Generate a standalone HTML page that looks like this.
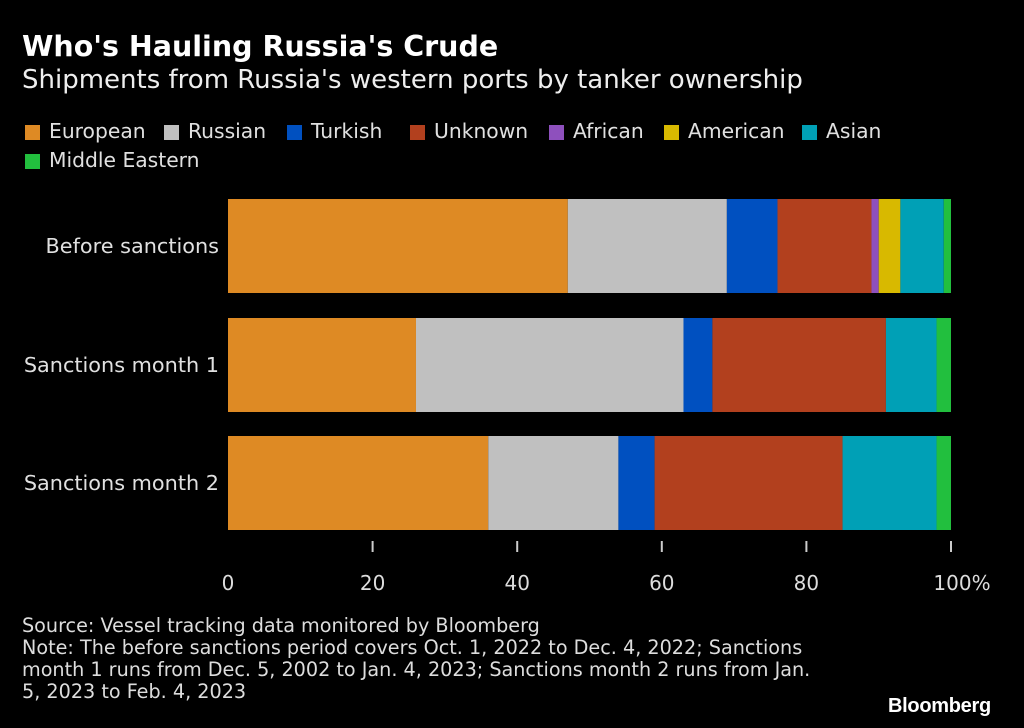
<!DOCTYPE html>
<html><head><meta charset="utf-8">
<style>
body{margin:0;background:#000;width:1024px;height:728px;overflow:hidden;font-family:"DejaVu Sans",sans-serif;color:#e6e6e6;position:relative}
.a{position:absolute;white-space:nowrap}
.sw{position:absolute;width:15px;height:15px}
.lt{position:absolute;font-size:20.3px;color:#e0e0e0;white-space:nowrap}
</style></head><body>
<div class="a" style="left:22px;top:30px;font-size:28.5px;font-weight:bold;color:#fff">Who's Hauling Russia's Crude</div>
<div class="a" style="left:22px;top:65px;font-size:26px;color:#eee">Shipments from Russia's western ports by tanker ownership</div>
<div id="legend"></div>
<svg id="chart" width="1024" height="728" style="position:absolute;left:0;top:0"></svg>
<div class="a" style="left:22px;top:615px;font-size:19.2px;line-height:22px;color:#ddd">Source: Vessel tracking data monitored by Bloomberg<br>Note: The before sanctions period covers Oct. 1, 2022 to Dec. 4, 2022; Sanctions<br>month 1 runs from Dec. 5, 2002 to Jan. 4, 2023; Sanctions month 2 runs from Jan.<br>5, 2023 to Feb. 4, 2023</div>
<div class="a" style="left:888px;top:695px;font-size:20px;font-weight:bold;color:#fff;font-family:'Liberation Sans',sans-serif;letter-spacing:-0.3px">Bloomberg</div>
<script>
const categories=["Before sanctions","Sanctions month 1","Sanctions month 2"];
const seriesNames=["European","Russian","Turkish","Unknown","African","American","Asian","Middle Eastern"];
const european=[47,26,36];
const russian=[22,37,18];
const turkish=[7,4,5];
const unknown=[13,24,26];
const african=[1,0,0];
const american=[3,0,0];
const asian=[6,7,13];
const middleEastern=[1,2,2];
const ticks=[0,20,40,60,80,100];
const tickLabels=["0","20","40","60","80","100%"];
const series=[european,russian,turkish,unknown,african,american,asian,middleEastern];
const colors=["#de8a24","#c0c0c0","#0050c0","#b2401e","#8e50bd","#d8b900","#00a0b6","#22bf3e"];
const NS="http://www.w3.org/2000/svg";
const svg=document.getElementById('chart');
const x=v=>228+v*7.23;
const barTop=[199,318,436],barH=94;
function mk(t,a){const e=document.createElementNS(NS,t);for(const k in a)e.setAttribute(k,a[k]);svg.appendChild(e);return e;}
categories.forEach((c,i)=>{
  let acc=0;
  series.forEach((s,j)=>{
    const v=s[i];
    if(v>0){
      const r=mk('rect',{x:x(acc),y:barTop[i],width:x(acc+v)-x(acc),height:barH,fill:colors[j]});
      
      
    }
    acc+=v;
  });
  const t=mk('text',{x:219,y:barTop[i]+barH/2+7,'text-anchor':'end','font-size':20.8,fill:'#e0e0e0','font-family':'DejaVu Sans, sans-serif'});
  t.textContent=c;
  
  
});
ticks.forEach((v,i)=>{
  if(v>0){
    const l=mk('line',{x1:x(v),x2:x(v),y1:541,y2:552,stroke:'#ccc','stroke-width':2});
    
    
  }
  const t=mk('text',{x:i==ticks.length-1?x(v)+11:x(v),y:590,'text-anchor':'middle','font-size':20,fill:'#ddd','font-family':'DejaVu Sans, sans-serif'});
  t.textContent=tickLabels[i];
  
  
});
const lg=document.getElementById('legend');
const lx=[25,164,287,410,549,664,802,25],ly=[123,123,123,123,123,123,123,152];
seriesNames.forEach((n,j)=>{
  const s=document.createElement('div');s.className='sw';
  s.style.left=lx[j]+'px';s.style.top=(ly[j]+2)+'px';s.style.background=colors[j];
  
  
  lg.appendChild(s);
  const t=document.createElement('div');t.className='lt';
  t.style.left=(lx[j]+24)+'px';t.style.top=(ly[j]-4)+'px';t.textContent=n;
  
  
  lg.appendChild(t);
});
</script>
</body></html>
